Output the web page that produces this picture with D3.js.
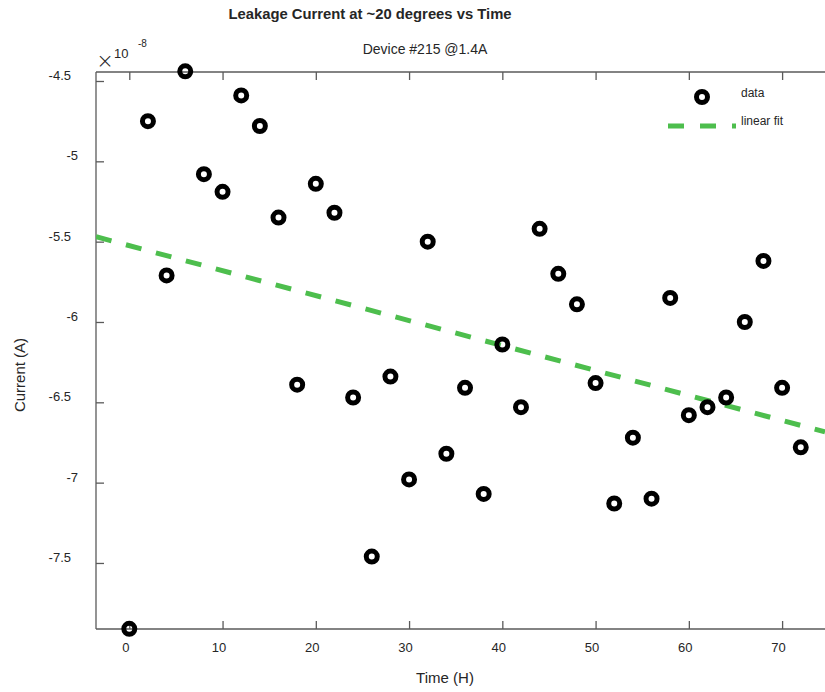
<!DOCTYPE html>
<html>
<head>
<meta charset="utf-8">
<script src="https://cdn.jsdelivr.net/npm/d3@7/dist/d3.min.js"></script>
<style>
  body { margin: 0; background: #fff; }
  text { font-family: "Liberation Sans", Arial, sans-serif; fill: #262626; }
</style>
</head>
<body>
<script>
// hours
var time = [0, 2, 4, 6, 8, 10, 12, 14, 16, 18, 20, 22, 24, 26, 28, 30, 32, 34, 36,
	38, 40, 42, 44, 46, 48, 50, 52, 54, 56, 58, 60, 62, 64, 66, 68, 70, 72];
// current, x 1e-8 A
var current = [-7.91, -4.75, -5.71, -4.44, -5.08, -5.19, -4.59, -4.78, -5.35, -6.39,
	-5.14, -5.32, -6.47, -7.46, -6.34, -6.98, -5.50, -6.82, -6.41, -7.07, -6.14,
	-6.53, -5.42, -5.70, -5.89, -6.38, -7.13, -6.72, -7.10, -5.85, -6.58, -6.53,
	-6.47, -6.00, -5.62, -6.41, -6.78];
// linear fit: slope per hour, intercept at t=0
var fitSlope = -0.01554;
var fitIntercept = -5.525;
var yTicks = [-4.5, -5, -5.5, -6, -6.5, -7, -7.5];
var xTicks = [0, 10, 20, 30, 40, 50, 60, 70];

var width = 825;
var height = 692;
var plotLeft = 96, plotRight = 825, plotTop = 72, plotBottom = 629;
var green = "#4dbe4d";
var axisColor = "#5a5a5a";

var svg = d3
	.select("body")
	.append("svg")
	.attr("width", width)
	.attr("height", height);

var x = d3.scaleLinear().domain([-3.57, 74.6]).range([plotLeft, plotRight]);
var y = d3.scaleLinear().domain([-7.911, -4.444]).range([plotBottom, plotTop]);

// axes box
var xBottom = svg.append("g")
	.attr("transform", "translate(0," + plotBottom + ")")
	.call(d3.axisBottom(x).tickValues(xTicks).tickSize(-8).tickPadding(14).tickFormat(String));
xBottom.select(".domain").attr("d", "M" + plotLeft + ",0H" + plotRight);

var xTop = svg.append("g")
	.attr("transform", "translate(0," + plotTop + ")")
	.call(d3.axisTop(x).tickValues(xTicks).tickSize(-8).tickFormat(""));
xTop.select(".domain").attr("d", "M" + plotLeft + ",0H" + plotRight);

var yLeft = svg.append("g")
	.attr("transform", "translate(" + plotLeft + ",0)")
	.call(d3.axisLeft(y).tickValues(yTicks).tickSize(-8).tickPadding(25).tickFormat(String));
yLeft.select(".domain").attr("d", "M0," + plotTop + "V" + plotBottom);

svg.selectAll(".domain, .tick line")
	.attr("stroke", axisColor)
	.attr("stroke-width", 1.3);
svg.selectAll(".tick text")
	.style("font-size", "13px")
	.style("font-family", "Liberation Sans, Arial, sans-serif")
	.attr("fill", "#262626");
xBottom.selectAll(".tick text").attr("dx", -4);
// the y labels sit a little high, whole numbers further right
yLeft.selectAll(".tick text")
	.attr("dy", "-0.12em")
	.attr("dx", function (d) { return Number.isInteger(d) ? 7 : 0; });

// fit line
svg.append("clipPath").attr("id", "plotclip")
	.append("rect").attr("x", plotLeft).attr("y", plotTop)
	.attr("width", plotRight - plotLeft).attr("height", plotBottom - plotTop);

svg.append("line")
	.attr("clip-path", "url(#plotclip)")
	.attr("x1", x(x.domain()[0]))
	.attr("y1", y(fitIntercept + fitSlope * x.domain()[0]))
	.attr("x2", x(x.domain()[1]))
	.attr("y2", y(fitIntercept + fitSlope * x.domain()[1]))
	.attr("stroke", green)
	.attr("stroke-width", 5)
	.attr("stroke-dasharray", "16,15");

// data
svg.selectAll("circle.pt")
	.data(time)
	.enter()
	.append("circle")
	.attr("class", "pt")
	.attr("cx", function (d) { return x(d); })
	.attr("cy", function (d, i) { return y(current[i]); })
	.attr("r", 5.5)
	.attr("fill", "none")
	.attr("stroke", "black")
	.attr("stroke-width", 5);

// legend
svg.append("circle")
	.attr("cx", 702).attr("cy", 97).attr("r", 5.5)
	.attr("fill", "none").attr("stroke", "black").attr("stroke-width", 5);
svg.append("text").attr("x", 741).attr("y", 97).style("font-size", "12px").text("data");
svg.append("line")
	.attr("x1", 668).attr("y1", 126).attr("x2", 736).attr("y2", 126)
	.attr("stroke", green).attr("stroke-width", 5).attr("stroke-dasharray", "16,16");
svg.append("text").attr("x", 741).attr("y", 125).style("font-size", "12px").text("linear fit");

// exponent
svg.append("text").attr("x", 105).attr("y", 68).attr("text-anchor", "middle")
	.style("font-family", "DejaVu Sans").style("font-size", "21px").style("font-weight", "200")
	.text("\u00d7");
svg.append("text").attr("x", 114).attr("y", 58).style("font-size", "13px").text("10");
svg.append("text").attr("x", 138).attr("y", 47).style("font-size", "10px").text("-8");

// titles
svg.append("text").attr("x", 370).attr("y", 19).attr("text-anchor", "middle")
	.style("font-size", "14.8px").style("font-weight", "bold").attr("fill", "#000")
	.text("Leakage Current at ~20 degrees vs Time");
svg.append("text").attr("x", 425).attr("y", 54).attr("text-anchor", "middle")
	.style("font-size", "14px").attr("fill", "#000")
	.text("Device #215 @1.4A");

svg.append("text").attr("x", 445).attr("y", 683).attr("text-anchor", "middle")
	.style("font-size", "15px").text("Time (H)");
svg.append("text")
	.attr("transform", "translate(25,375) rotate(-90)")
	.attr("text-anchor", "middle")
	.style("font-size", "15px").text("Current (A)");
</script>
</body>
</html>
